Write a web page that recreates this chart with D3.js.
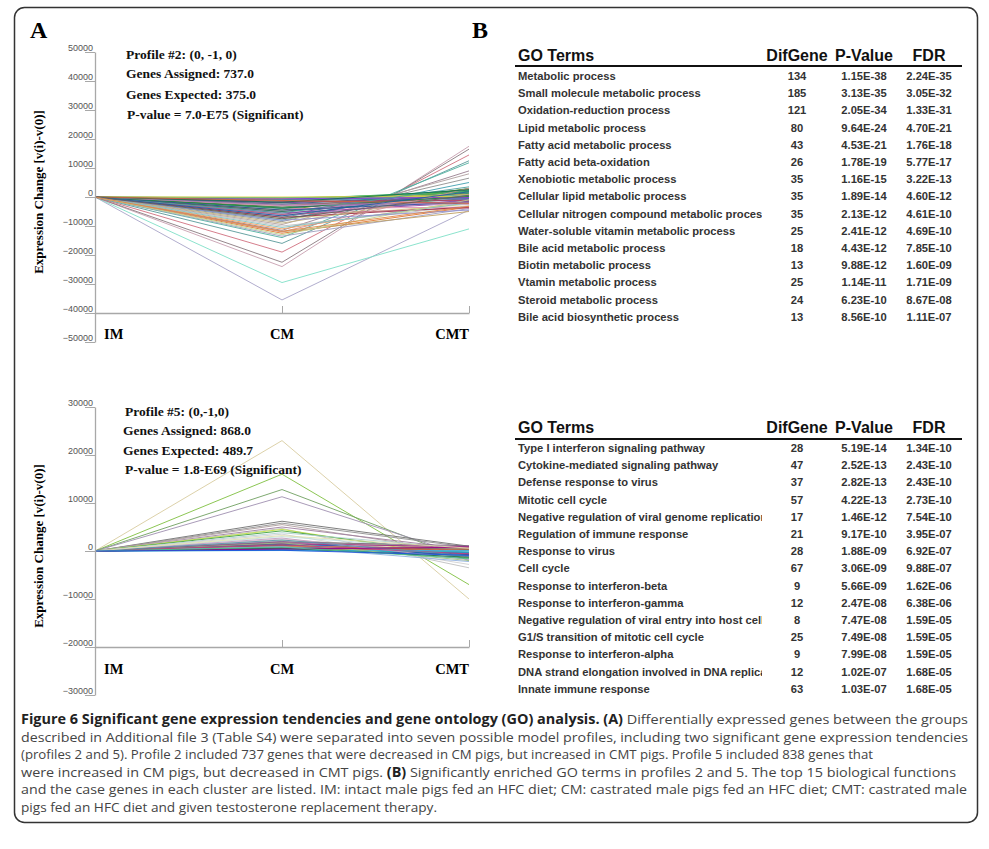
<!DOCTYPE html>
<html>
<head>
<meta charset="utf-8">
<script src="https://cdn.jsdelivr.net/npm/d3@7"></script>
<style>
  body { margin: 0; background: #fff; }
  svg { display: block; }
  .serif { font-family: "Liberation Serif", "Times New Roman", serif; font-weight: bold; }
  .tbl { font-family: "Liberation Sans", Arial, sans-serif; font-weight: bold; }
  .tick text { font-family: "Liberation Sans", Arial, sans-serif; font-size: 9px; fill: #555; }
  .tick line, .domain { stroke: #a8a8a8; }
</style>
</head>
<body>
<div class="chart-container"></div>
<script>
/********** the Data **********/
const stages = ["IM", "CM", "CMT"];

// profile #2 : value at CM and value at CMT for each drawn gene (IM is always 0)
const profile2CM = [-35500, -29500, -24000, -22500, -19000, -16000, -14000, -13500, -12500, -12000,
  -11500, -11000, -10000, -9500, -8500, -8000, -7500, -7000, -6500, -6000,
  -5500, -5000, -5000, -4500, -4000, -4000, -3500, -3500, -3000, -3000,
  -2500, -2500, -2000, -2000, -1500, -1500, -1000, -1000, -800, -500,
  -500, -300, -200, 0, -6000, -7000, -9000, -12000, -10500, -13000,
  -8000, -5500, -4500, -3800, -2800, -1800, -1200, -6500, -7500, -11800];
const profile2CMT = [-4500, -11000, 17500, 16500, 14500, 12500, 11800, -4000, -3500, -5000,
  9000, -1500, -3000, 8000, 6500, 5000, -2500, 3000, -1000, 2500,
  -2000, 1500, -500, 2800, -3500, 1000, -1500, 2000, 500, -2500,
  1200, -800, 1800, -300, 600, -1200, 2200, 300, -600, 1500,
  -200, 800, 400, 200, -3800, -3500, 1000, 3000, -2000, -1000,
  -4500, 3500, -1800, 200, -1800, 2500, -2200, 1800, 600, -3200];
const profile2Colors = ["#a9a4c8", "#7fe0c8", "#c8a0b0", "#8a7a80", "#d07080", "#5a9a9a", "#50b0a0", "#a0a0c0", "#e07830", "#c0a060",
  "#9a8090", "#f0a060", "#c0c0c0", "#b0a0a0", "#909090", "#40a0b0", "#d0d080", "#30a080", "#a070c0", "#6050a0",
  "#9040a0", "#a02080", "#2a8a60", "#808000", "#e090b0", "#20a090", "#6a3d9a", "#40a040", "#c07030", "#d0a0d0",
  "#108060", "#8060a0", "#309060", "#7040a0", "#60b0d0", "#b04060", "#20a060", "#a060a0", "#4a7ab0", "#50c050",
  "#8a2be2", "#f0c040", "#30b0a0", "#e0d040", "#c06080", "#a03050", "#c0b080", "#d09090", "#80c0c0", "#c0d090",
  "#9090d0", "#50a0a0", "#3050a0", "#208040", "#b080b0", "#107050", "#d06040", "#2060a0", "#606060", "#e08848"];

// profile #5
const profile5CM = [23000, 16000, 12800, 11300, 6200, 5800, 5500, 5000, 4700, 4500,
  4200, 3800, 3500, 3000, 2500, 2200, 2000, 1800, 1600, 1500,
  1400, 1300, 1200, 1100, 1000, 900, 800, 700, 600, 500,
  400, 300, 200, 100, 1700, 2700, 900, 1900, 600, 1300,
  2300, 400, 3200, 800, 150];
const profile5CMT = [-10000, -7000, -2000, -1200, 1000, 800, -500, 300, -3500, -1500,
  -800, 500, -2800, 200, -600, 400, -1200, 600, -300, 900,
  -900, 300, -1500, 100, -500, 700, -200, -1000, 400, -700,
  200, -400, 100, -200, -2000, -1800, -2200, 1100, -1300, -600,
  -1000, 800, 600, -1600, -900];
const profile5Colors = ["#d8cca0", "#80c040", "#70a060", "#a090b0", "#707070", "#909090", "#b0a0a0", "#a080a0", "#c0c0c0", "#c0e040",
  "#40a040", "#b0d0d0", "#d0d0d0", "#c0e0e0", "#e0c0d0", "#a0d0a0", "#9070b0", "#c080a0", "#5050a0", "#a03080",
  "#308080", "#2060c0", "#30a060", "#d04040", "#8040a0", "#e0a040", "#4090d0", "#20a0a0", "#c06030", "#3030a0",
  "#d07030", "#1080c0", "#40b0e0", "#30c0c0", "#a0c080", "#c0a0c0", "#90b0e0", "#806080", "#207050", "#c04080",
  "#6090b0", "#900090", "#e0e0b0", "#50c090", "#2050e0"];

const profile2Text = ["Profile #2: (0, -1, 0)", "Genes Assigned: 737.0", "Genes Expected: 375.0", "P-value = 7.0-E75 (Significant)"];
const profile5Text = ["Profile #5: (0,-1,0)", "Genes Assigned: 868.0", "Genes Expected: 489.7", "P-value = 1.8-E69 (Significant)"];

const yTicks2 = [50000, 40000, 30000, 20000, 10000, 0, -10000, -20000, -30000, -40000, -50000];
const yTicks5 = [30000, 20000, 10000, 0, -10000, -20000, -30000];

// GO tables
const goHeader = ["GO Terms", "DifGene", "P-Value", "FDR"];
const go2Terms = ["Metabolic process", "Small molecule metabolic process", "Oxidation-reduction process",
  "Lipid metabolic process", "Fatty acid metabolic process", "Fatty acid beta-oxidation",
  "Xenobiotic metabolic process", "Cellular lipid metabolic process", "Cellular nitrogen compound metabolic process",
  "Water-soluble vitamin metabolic process", "Bile acid metabolic process", "Biotin metabolic process",
  "Vtamin metabolic process", "Steroid metabolic process", "Bile acid biosynthetic process"];
const go2Genes = [134, 185, 121, 80, 43, 26, 35, 35, 35, 25, 18, 13, 25, 24, 13];
const go2PValue = ["1.15E-38", "3.13E-35", "2.05E-34", "9.64E-24", "4.53E-21", "1.78E-19", "1.16E-15", "1.89E-14",
  "2.13E-12", "2.41E-12", "4.43E-12", "9.88E-12", "1.14E-11", "6.23E-10", "8.56E-10"];
const go2FDR = ["2.24E-35", "3.05E-32", "1.33E-31", "4.70E-21", "1.76E-18", "5.77E-17", "3.22E-13", "4.60E-12",
  "4.61E-10", "4.69E-10", "7.85E-10", "1.60E-09", "1.71E-09", "8.67E-08", "1.11E-07"];

const go5Terms = ["Type I interferon signaling pathway", "Cytokine-mediated signaling pathway", "Defense response to virus",
  "Mitotic cell cycle", "Negative regulation of viral genome replication", "Regulation of immune response",
  "Response to virus", "Cell cycle", "Response to interferon-beta", "Response to interferon-gamma",
  "Negative regulation of viral entry into host cell", "G1/S transition of mitotic cell cycle",
  "Response to interferon-alpha", "DNA strand elongation involved in DNA replication", "Innate immune response"];
const go5Genes = [28, 47, 37, 57, 17, 21, 28, 67, 9, 12, 8, 25, 9, 12, 63];
const go5PValue = ["5.19E-14", "2.52E-13", "2.82E-13", "4.22E-13", "1.46E-12", "9.17E-10", "1.88E-09", "3.06E-09",
  "5.66E-09", "2.47E-08", "7.47E-08", "7.49E-08", "7.99E-08", "1.02E-07", "1.03E-07"];
const go5FDR = ["1.34E-10", "2.43E-10", "2.43E-10", "2.73E-10", "7.54E-10", "3.95E-07", "6.92E-07", "9.88E-07",
  "1.62E-06", "6.38E-06", "1.59E-05", "1.59E-05", "1.59E-05", "1.68E-05", "1.68E-05"];

// caption, one entry per printed line; bold runs are marked with *
const captionLines = [
  "*Figure 6 Significant gene expression tendencies and gene ontology (GO) analysis. (A)* Differentially expressed genes between the groups",
  "described in Additional file 3 (Table S4) were separated into seven possible model profiles, including two significant gene expression tendencies",
  "(profiles 2 and 5). Profile 2 included 737 genes that were decreased in CM pigs, but increased in CMT pigs. Profile 5 included 838 genes that",
  "were increased in CM pigs, but decreased in CMT pigs. *(B)* Significantly enriched GO terms in profiles 2 and 5. The top 15 biological functions",
  "and the case genes in each cluster are listed. IM: intact male pigs fed an HFC diet; CM: castrated male pigs fed an HFC diet; CMT: castrated male",
  "pigs fed an HFC diet and given testosterone replacement therapy."
];
const captionWidths = [947, 947, 852, 935, 946, 416];

/********** svg **********/
const W = 989, H = 849;
const svg = d3.select(".chart-container").append("svg")
  .attr("width", W).attr("height", H);

// frame
svg.append("rect")
  .attr("x", 14.5).attr("y", 7.5).attr("width", 963).attr("height", 815)
  .attr("rx", 10).attr("fill", "none").attr("stroke", "#333").attr("stroke-width", 1.5);

svg.append("text").attr("class", "serif").attr("x", 30).attr("y", 38)
  .attr("font-size", 24).text("A");
svg.append("text").attr("class", "serif").attr("x", 472).attr("y", 38)
  .attr("font-size", 24).text("B");

/********** profile chart function **********/
function drawProfile(cmArr, cmtArr, colors, yTicks, yRange, labelY, textLines, textX, textY) {
  let x = d3.scalePoint().domain(stages).range([95, 469]);
  let y = d3.scaleLinear()
    .domain([yTicks[yTicks.length - 1], yTicks[0]])
    .range(yRange);

  let g = svg.append("g");

  // gene lines
  let genes = cmArr.map((v, i) => [
    {stage: "IM", value: 0},
    {stage: "CM", value: v},
    {stage: "CMT", value: cmtArr[i]}
  ]);
  let line = d3.line().x(d => x(d.stage)).y(d => y(d.value));
  g.selectAll(".gene")
    .data(genes)
    .enter().append("path")
      .attr("class", "gene")
      .attr("d", line)
      .attr("fill", "none")
      .attr("stroke", (d, i) => colors[i])
      .attr("stroke-width", 1)
      .attr("opacity", 0.9);

  // y axis
  let yAxis = d3.axisLeft(y).tickValues(yTicks).tickSize(10).tickSizeOuter(0)
    .tickFormat(d3.format("d"));
  let ya = g.append("g").attr("transform", "translate(95,0)").call(yAxis);
  ya.selectAll("text").attr("x", -2).attr("dy", "-0.12em");
  ya.select(".domain").attr("stroke-width", 1.3);

  // x axis at the second lowest tick
  let xAxis = d3.axisBottom(x).tickSize(-7).tickSizeOuter(0).tickFormat("");
  let xa = g.append("g").attr("transform", `translate(0,${y(yTicks[yTicks.length - 2])})`).call(xAxis);
  xa.select(".domain").attr("stroke-width", 1.5);

  // stage labels
  g.selectAll(".stage")
    .data(stages)
    .enter().append("text")
      .attr("class", "serif stage")
      .attr("font-size", 14.5)
      .attr("x", (d, i) => i === 0 ? x(d) + 9 : x(d))
      .attr("y", labelY)
      .attr("text-anchor", (d, i) => ["start", "middle", "end"][i])
      .text(d => d);

  // y title
  g.append("text")
    .attr("class", "serif")
    .attr("font-size", 13)
    .attr("transform", `translate(43,${(yRange[0] + yRange[1]) / 2 - 5}) rotate(-90)`)
    .attr("text-anchor", "middle")
    .text("Expression Change [v(i)-v(0)]");

  // profile description
  g.selectAll(".ptext")
    .data(textLines)
    .enter().append("text")
      .attr("class", "serif ptext")
      .attr("font-size", 13.5)
      .attr("fill", "#111")
      .attr("x", (d, i) => textX[i])
      .attr("y", (d, i) => textY[i])
      .text(d => d);
}

drawProfile(profile2CM, profile2CMT, profile2Colors, yTicks2, [342, 52], 339,
  profile2Text, [126, 126, 126, 127], [59, 78, 99, 119]);
drawProfile(profile5CM, profile5CMT, profile5Colors, yTicks5, [695, 407], 674,
  profile5Text, [125, 123, 123, 125], [416, 435, 455, 474]);

/********** GO table function **********/
function drawTable(terms, genes, pvals, fdrs, headerY, ruleY, firstRowY) {
  let g = svg.append("g").attr("class", "tbl");
  let clipId = "clip" + headerY;
  svg.append("clipPath").attr("id", clipId)
    .append("rect").attr("x", 510).attr("y", -20).attr("width", 252).attr("height", 40);

  let cols = [
    {x: 518, anchor: "start"},
    {x: 797, anchor: "middle"},
    {x: 864, anchor: "middle"},
    {x: 929, anchor: "middle"}
  ];
  g.selectAll(".hdr")
    .data(goHeader)
    .enter().append("text")
      .attr("x", (d, i) => cols[i].x)
      .attr("y", headerY)
      .attr("text-anchor", (d, i) => cols[i].anchor)
      .attr("font-size", 16)
      .attr("fill", "#111")
      .text(d => d);

  g.append("line")
    .attr("x1", 515).attr("x2", 962)
    .attr("y1", ruleY).attr("y2", ruleY)
    .attr("stroke", "#111").attr("stroke-width", 2);

  let rowY = d3.scaleLinear().domain([0, 14]).range([firstRowY, firstRowY + 14 * 17.2]);
  let rows = g.selectAll(".row")
    .data(terms)
    .enter().append("g")
      .attr("class", "row")
      .attr("transform", (d, i) => `translate(0,${rowY(i) + 4})`)
      .attr("font-size", 11.2)
      .attr("fill", "#333");

  rows.append("text").attr("x", 518).attr("clip-path", `url(#${clipId})`)
    .text(d => d);
  rows.append("text").attr("x", 797).attr("text-anchor", "middle")
    .text((d, i) => genes[i]);
  rows.append("text").attr("x", 864).attr("text-anchor", "middle")
    .text((d, i) => pvals[i]);
  rows.append("text").attr("x", 929).attr("text-anchor", "middle")
    .text((d, i) => fdrs[i]);
}

drawTable(go2Terms, go2Genes, go2PValue, go2FDR, 61, 66, 76);
drawTable(go5Terms, go5Genes, go5PValue, go5FDR, 433, 439, 448);

/********** caption **********/
let cap = svg.append("g")
  .attr("font-family", "'Open Sans', 'Liberation Sans', sans-serif")
  .attr("font-size", 13.5)
  .attr("fill", "#444");

captionLines.forEach((ln, i) => {
  let t = cap.append("text")
    .attr("x", 21)
    .attr("y", 724 + i * 17.6)
    .attr("textLength", captionWidths[i])
    .attr("lengthAdjust", "spacingAndGlyphs");
  ln.split("*").forEach((part, k) => {
    if (part === "") return;
    t.append("tspan")
      .attr("font-weight", k % 2 === 1 ? "bold" : "normal")
      .attr("fill", k % 2 === 1 ? "#222" : "#444")
      .text(part);
  });
});
</script>
</body>
</html>
